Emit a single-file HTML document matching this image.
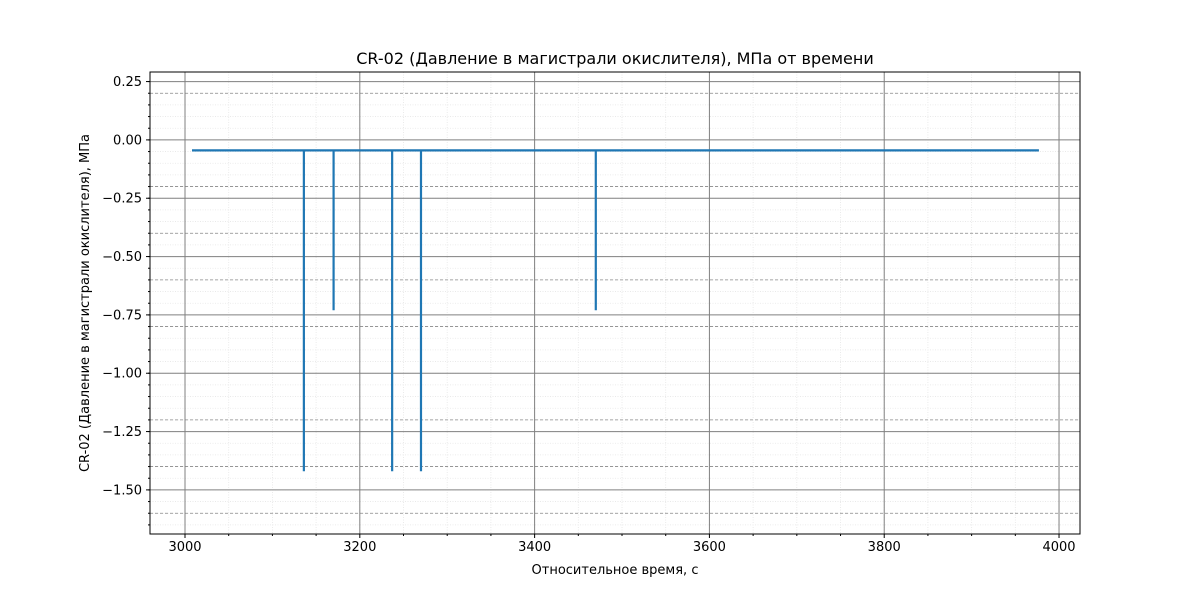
<!DOCTYPE html>
<html><head><meta charset="utf-8"><style>
body{margin:0;background:#fff;font-family:"Liberation Sans","DejaVu Sans",sans-serif;}
</style></head><body>
<svg id="chart" width="1200" height="600" xmlns="http://www.w3.org/2000/svg" font-family="DejaVu Sans, Liberation Sans, sans-serif">
<rect width="1200" height="600" fill="#fff"/>
<g id="grid"></g><g id="series"></g><g id="axes"></g>
</svg>
<script>
const xTicks=[3000,3200,3400,3600,3800,4000];
const yTicks=[0.25,0,-0.25,-0.5,-0.75,-1,-1.25,-1.5];
const yTickLabels=["0.25","0.00","\u22120.25","\u22120.50","\u22120.75","\u22121.00","\u22121.25","\u22121.50"];
const baseStart=3008, baseEnd=3977, baseValue=-0.045;
const spikeTimes=[3136,3170,3237,3270,3470];
const spikeValues=[-1.42,-0.73,-1.42,-1.42,-0.73];
const L=150,R=1080,T=72,B=534;
const xMin=2959.95,xMax=4024,yMin=-1.689,yMax=0.291;
const X=v=>L+(v-xMin)/(xMax-xMin)*(R-L);
const Y=v=>T+(yMax-v)/(yMax-yMin)*(B-T);
const NS="http://www.w3.org/2000/svg";
function mk(p,tag,a){const e=document.createElementNS(NS,tag);for(const k in a)e.setAttribute(k,a[k]);document.getElementById(p).appendChild(e);return e;}
// minor grid
for(let v=2950;v<=4050;v+=50){if(v<xMin||v>xMax)continue;const e=mk('grid','line',{x1:X(v),x2:X(v),y1:T,y2:B,stroke:'#e6e6e6','stroke-width':0.8,'stroke-dasharray':'1,1.5'});

}
for(let i=-34;i<=6;i++){const v=i*0.05;if(v<yMin||v>yMax)continue;const e=mk('grid','line',{x1:L,x2:R,y1:Y(v),y2:Y(v),stroke:'#e6e6e6','stroke-width':0.8,'stroke-dasharray':'1,1.5'});

}
for(let i=-8;i<=1;i++){const v=i*0.2;if(i===0||i===-5)continue;const e=mk('grid','line',{x1:L,x2:R,y1:Y(v),y2:Y(v),stroke:'#888','stroke-width':0.8,'stroke-dasharray':'3,2'});

}
xTicks.forEach(v=>{const e=mk('grid','line',{x1:X(v),x2:X(v),y1:T,y2:B,stroke:'#808080','stroke-width':1});

});
yTicks.forEach(v=>{const e=mk('grid','line',{x1:L,x2:R,y1:Y(v),y2:Y(v),stroke:'#808080','stroke-width':1});

});
// series
let d=`M${X(baseStart)},${Y(baseValue)}`;
spikeTimes.forEach((t,i)=>{d+=` L${X(t)},${Y(baseValue)} L${X(t)},${Y(spikeValues[i])} L${X(t)},${Y(baseValue)}`;});
d+=` L${X(baseEnd)},${Y(baseValue)}`;
const s=mk('series','path',{d:d,fill:'none',stroke:'#1f77b4','stroke-width':2.2});


// axes frame
const f=mk('axes','rect',{x:L,y:T,width:R-L,height:B-T,fill:'none',stroke:'#000','stroke-width':1});


for(let v=2950;v<=4050;v+=50){if(v<xMin||v>xMax||v%200===0)continue;mk('axes','line',{x1:X(v),x2:X(v),y1:B,y2:B+2,stroke:'#000'});}
for(let i=-34;i<=6;i++){const v=i*0.05;if(v<yMin||v>yMax)continue;mk('axes','line',{x1:L-2,x2:L,y1:Y(v),y2:Y(v),stroke:'#000'});}
xTicks.forEach(v=>{mk('axes','line',{x1:X(v),x2:X(v),y1:B,y2:B+4,stroke:'#000'});
const t=mk('axes','text',{x:X(v),y:B+17,'text-anchor':'middle','font-size':13});t.textContent=v;

});
yTicks.forEach((v,i)=>{mk('axes','line',{x1:L-4,x2:L,y1:Y(v),y2:Y(v),stroke:'#000'});
const t=mk('axes','text',{x:L-8,y:Y(v)+4.5,'text-anchor':'end','font-size':13});t.textContent=yTickLabels[i];

});
const tt=mk('axes','text',{x:(L+R)/2,y:64,'text-anchor':'middle','font-size':16});tt.textContent='CR-02 (Давление в магистрали окислителя), МПа от времени';


const xt=mk('axes','text',{x:(L+R)/2,y:574,'text-anchor':'middle','font-size':13});xt.textContent='Относительное время, с';


const yt=mk('axes','text',{x:89,y:(T+B)/2,'text-anchor':'middle','font-size':13,transform:`rotate(-90 89 ${(T+B)/2})`});yt.textContent='CR-02 (Давление в магистрали окислителя), МПа';


</script>
</body></html>
